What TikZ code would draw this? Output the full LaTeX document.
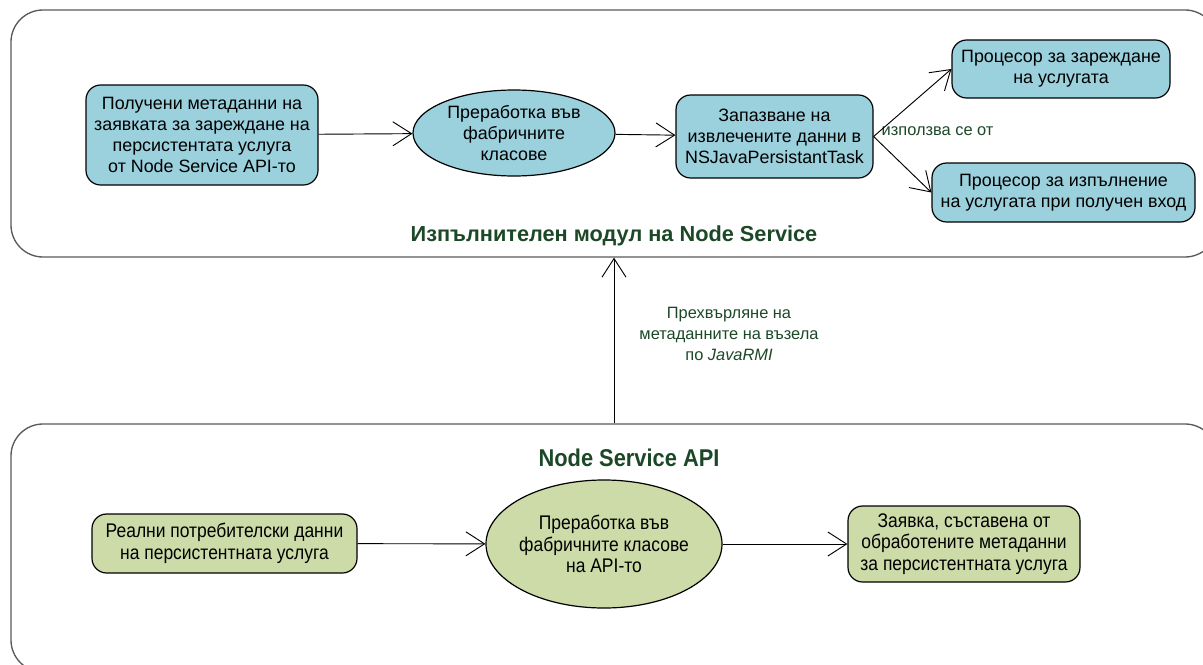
\documentclass[tikz,border=0pt]{standalone}
\usepackage{fontspec}
\setmainfont{Liberation Sans}
\usetikzlibrary{arrows.meta,shapes.geometric}
\definecolor{boxblue}{RGB}{155,208,221}
\definecolor{boxgreen}{RGB}{205,219,168}
\definecolor{titlegreen}{RGB}{28,72,40}
\definecolor{framegray}{RGB}{90,90,90}
\tikzset{
  px/.style={x=0.75pt,y=-0.75pt},
  frame/.style={draw=framegray,line width=1pt,rounded corners=24pt,rectangle,inner sep=0pt},
  bluebox/.style={draw=black,line width=0.9pt,fill=boxblue,rounded corners=11pt,rectangle,align=center,inner sep=2pt,font=\fontsize{13.4}{15.75}\selectfont},
  greenbox/.style={bluebox,fill=boxgreen,font=\fontsize{14.8}{16.3}\selectfont\addfontfeature{FakeStretch=0.885}},
  blueell/.style={draw=black,line width=0.9pt,fill=boxblue,ellipse,align=center,inner sep=0pt,font=\fontsize{13.4}{15.75}\selectfont},
  greenell/.style={blueell,fill=boxgreen,inner xsep=-10pt,inner ysep=-4pt,font=\fontsize{14.8}{16.3}\selectfont\addfontfeature{FakeStretch=0.885}},
  arr/.style={draw=black,line width=0.7pt,-{Straight Barb[length=14pt,width=18pt,line width=0.7pt]}},
  title/.style={text=titlegreen,font=\fontsize{16.3}{19}\selectfont\bfseries},
  note/.style={text=titlegreen,font=\fontsize{12.3}{15.75}\selectfont,align=center},
}
\begin{document}
\begin{tikzpicture}[px]
\useasboundingbox (0,0) rectangle (1203,664);
\clip (0,0) rectangle (1203,664);
\fill[white] (0,0) rectangle (1203,664);

% outer module frames
\node[frame,minimum width=904.5pt,minimum height=185.25pt] (exec) at (614,133.5) {};
\node[frame,minimum width=904.5pt,minimum height=186pt] (api) at (614,548) {};

\node[title] (exectitle) at (614,236) {Изпълнителен модул на Node Service};
\node[title,font=\fontsize{18.2}{21}\selectfont\bfseries\addfontfeature{FakeStretch=0.9}] (apititle) at (629,458) {Node Service API};

% execution module
\node[bluebox,minimum width=174pt,minimum height=75pt] (meta) at (202,135)
  {Получени метаданни на\\заявката за зареждане на\\персистентата услуга\\от Node Service API-то};
\node[blueell,minimum width=151.5pt,minimum height=64.5pt] (proc) at (514,133)
  {Преработка във\\фабричните\\класове};
\node[bluebox,minimum width=147.75pt,minimum height=62.25pt] (store) at (774.5,136.5)
  {Запазване на\\извлечените данни в\\NSJavaPersistantTask};
\node[bluebox,minimum width=163.5pt,minimum height=43.5pt] (load) at (1061,69)
  {Процесор за зареждане\\на услугата};
\node[bluebox,minimum width=197.25pt,minimum height=44.25pt] (run) at (1063.5,192.5)
  {Процесор за изпълнение\\на услугата при получен вход};
\node[note,anchor=west] (uses) at (877,131) {използва се от};

\draw[arr] (meta) -- (proc);
\draw[arr] (proc) -- (store);
\draw[arr] (store.east) -- (load.west);
\draw[arr] (store.east) -- (run.west);

% API module
\node[greenbox,minimum width=198.75pt,minimum height=44.25pt] (user) at (224.5,543.5)
  {Реални потребителски данни\\на персистентната услуга};
\node[greenell,minimum width=177pt,minimum height=96pt] (apiproc) at (604,544)
  {Преработка във\\фабричните класове\\на API-то};
\node[greenbox,minimum width=174pt,minimum height=57pt] (request) at (964,544)
  {Заявка, съставена от\\обработените метаданни\\за персистентната услуга};

\draw[arr] (user) -- (apiproc);
\draw[arr] (apiproc) -- (request);

% transfer between the modules
\draw[arr] (api.north -| exectitle.south) -- (exec.south -| exectitle.south);
\node[note] (transfer) at (729,334) {Прехвърляне на\\метаданните на възела\\по \textit{JavaRMI}};
\end{tikzpicture}
\end{document}
